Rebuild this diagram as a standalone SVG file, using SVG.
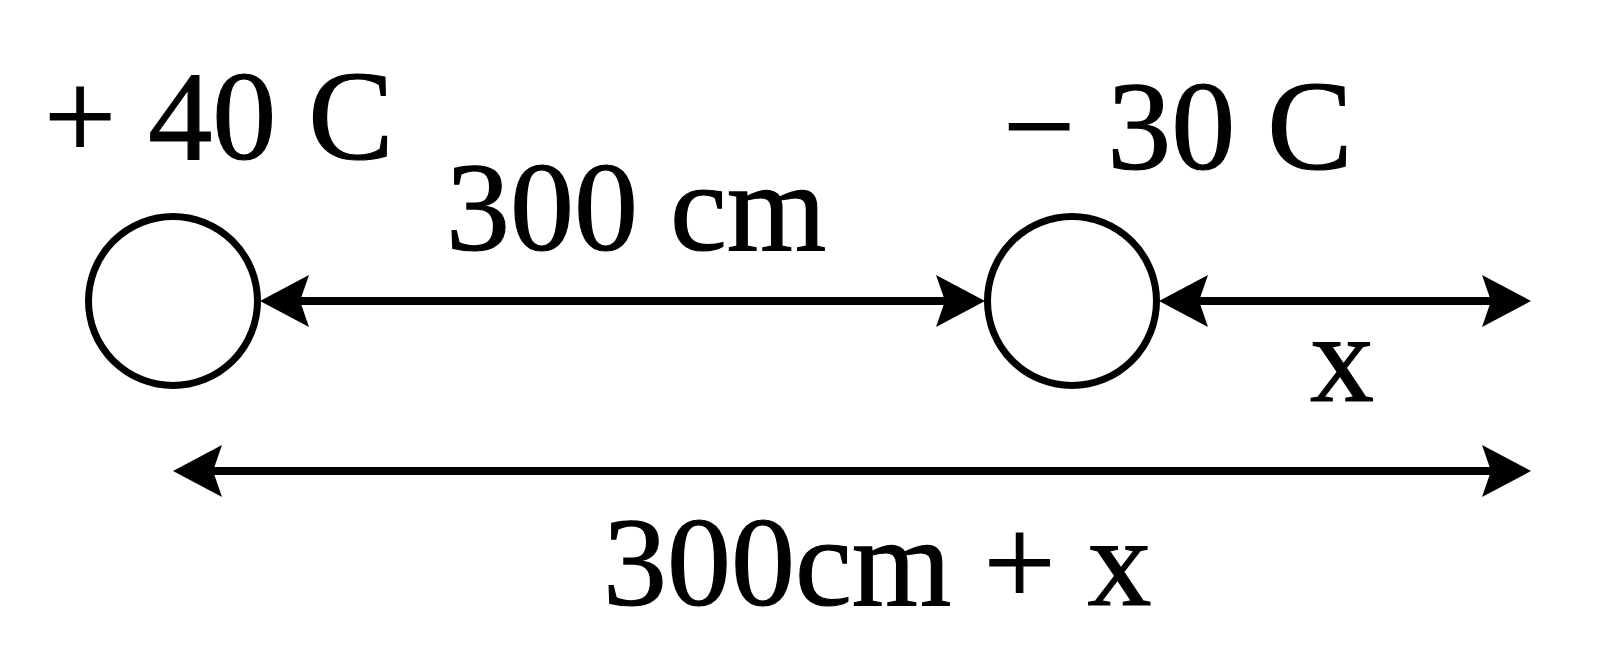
<svg xmlns="http://www.w3.org/2000/svg" width="1600" height="645" viewBox="0 0 1600 645">
<defs>
<style>
.charge{fill:#fff;stroke:#000;stroke-width:7}
.dim{stroke:#000;stroke-width:8;fill:none}
text{font-family:"Liberation Serif","Times New Roman",serif;fill:#000;stroke:#000;stroke-width:1.2}
.lbl{font-size:128px}
</style>
<marker id="ah" viewBox="0 -26 49 52" refX="39" refY="0" markerWidth="49" markerHeight="52" markerUnits="userSpaceOnUse" orient="auto-start-reverse">
<path d="M49,0 L0,-26 L9,0 L0,26 Z" fill="#000"/>
</marker>
</defs>
<rect width="1600" height="645" fill="#fff"/>
<g id="charge1">
<circle class="charge" cx="173" cy="301" r="84.5"/>
<text class="lbl" x="44" y="159" font-size="129">+ 40 C</text>
</g>
<g id="charge2">
<circle class="charge" cx="1072" cy="301" r="84.5"/>
<text class="lbl" x="1003" y="169">− 30 C</text>
</g>
<g id="connectors">
<line class="dim" x1="270" y1="301" x2="975" y2="301" marker-start="url(#ah)" marker-end="url(#ah)"/>
<line class="dim" x1="1169" y1="301" x2="1521" y2="301" marker-start="url(#ah)" marker-end="url(#ah)"/>
<line class="dim" x1="183" y1="471" x2="1521" y2="471" marker-start="url(#ah)" marker-end="url(#ah)"/>
</g>
<g id="labels">
<text class="lbl" x="446" y="250" font-size="125">300 cm</text>
<text class="lbl" x="1310" y="401">x</text>
<text class="lbl" x="603" y="605">300cm + x</text>
</g>
</svg>
